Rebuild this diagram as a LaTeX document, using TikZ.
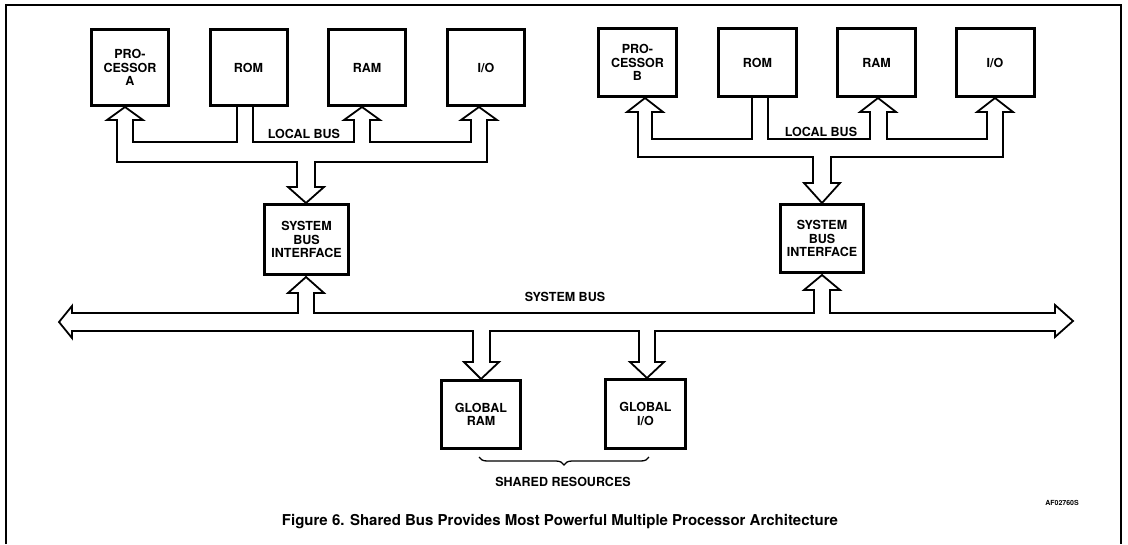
\documentclass[tikz,border=0pt]{standalone}
\usepackage{fontspec}
\setmainfont{TeX Gyre Heros}
\usetikzlibrary{decorations.pathreplacing}

\newcommand{\etiq}{\fontsize{12.5}{13.5}\selectfont\bfseries}

\begin{document}
\begin{tikzpicture}[x=1pt, y=-1pt,
  caja/.style={draw, fill=white, line width=3pt, inner sep=0pt, align=center, font=\etiq},
  cajaA/.style={caja, minimum width=77pt, minimum height=76pt},
  cajaB/.style={caja, minimum width=78pt, minimum height=68pt},
  bus/.style={line width=1.8pt, line join=miter},
  rotulo/.style={font=\etiq}]

  \useasboundingbox (0,0) rectangle (1128,544);

  % Marco de la figura
  \draw[line width=1.2pt] (6,544) -- (6,5) -- (1121,5) -- (1121,544);

  % Bus local del procesador A
  \draw[bus] (237,107) -- (237,142) -- (133,142) -- (133,120) -- (143,120) -- (125,107)
    -- (107,120) -- (117,120) -- (117,162) -- (297,162) -- (297,187) -- (288,187)
    -- (306,203) -- (324,187) -- (315,187) -- (315,162) -- (487,162) -- (487,120)
    -- (497,120) -- (479,107) -- (461,120) -- (471,120) -- (471,142) -- (370,142)
    -- (370,120) -- (380,120) -- (362,107) -- (344,120) -- (354,120) -- (354,142)
    -- (253,142) -- (253,107);

  % Bus local del procesador B
  \draw[bus] (752,98) -- (752,139) -- (652,139) -- (652,112) -- (663,112) -- (645,98)
    -- (627,112) -- (638,112) -- (638,157) -- (813,157) -- (813,183) -- (804,183)
    -- (822,203) -- (840,183) -- (831,183) -- (831,157) -- (1003,157) -- (1003,112)
    -- (1013,112) -- (995,98) -- (977,112) -- (987,112) -- (987,139) -- (887,139)
    -- (887,112) -- (896,112) -- (878,98) -- (860,112) -- (870,112) -- (870,139)
    -- (768,139) -- (768,98);

  % Bus del sistema
  \draw[bus] (59,322) -- (72,306) -- (72,313) -- (298,313) -- (298,293) -- (288,293)
    -- (306,277) -- (324,293) -- (314,293) -- (314,313) -- (814,313) -- (814,290)
    -- (804,290) -- (822,275) -- (840,290) -- (830,290) -- (830,313) -- (1055,313)
    -- (1055,305) -- (1073,321) -- (1055,337) -- (1055,331) -- (655,331) -- (655,362)
    -- (664,362) -- (647,378) -- (630,362) -- (639,362) -- (639,331) -- (490,331)
    -- (490,362) -- (499,362) -- (481,379) -- (464,362) -- (473,362) -- (473,331)
    -- (72,331) -- (72,338) -- cycle;

  % Modulos locales A
  \node[cajaA] (procA) at (130,67.5) {PRO-\\CESSOR\\A};
  \node[cajaA] (romA) at (248.5,67.5) {ROM};
  \node[cajaA] (ramA) at (367,67.5) {RAM};
  \node[cajaA] (ioA) at (486,67.5) {I/O};

  % Modulos locales B
  \node[cajaB] (procB) at (637.5,62.5) {PRO-\\CESSOR\\B};
  \node[cajaB] (romB) at (757.5,62.5) {ROM};
  \node[cajaB] (ramB) at (876.5,62.5) {RAM};
  \node[cajaB] (ioB) at (995,62.5) {I/O};

  % Interfaces al bus del sistema
  \node[caja, minimum width=84pt, minimum height=70pt] (sbiA) at (306.5,239.5) {SYSTEM\\BUS\\INTERFACE};
  \node[caja, minimum width=83pt, minimum height=68pt] (sbiB) at (822,238.5) {SYSTEM\\BUS\\INTERFACE};

  % Recursos compartidos
  \node[caja, minimum width=79pt, minimum height=68pt] (gram) at (481,414.5) {GLOBAL\\RAM};
  \node[caja, minimum width=80pt, minimum height=69pt] (gio) at (645.5,414) {GLOBAL\\I/O};
  \draw[line width=1.3pt, decorate, decoration={brace, mirror, amplitude=8pt}]
    (479,457) -- (649,457);

  % Rotulos
  \node[rotulo] (lbusA) at (304,134) {LOCAL BUS};
  \node[rotulo] (lbusB) at (821,132) {LOCAL BUS};
  \node[rotulo] (sbus) at (565,297) {SYSTEM BUS};
  \node[rotulo] (shared) at (563,482) {SHARED RESOURCES};
  \node[font=\fontsize{7}{8}\selectfont\bfseries] (codigo) at (1062,503) {AF02760S};
  \node[font=\fontsize{15}{17}\selectfont\bfseries] (titulo) at (560,522)
    {Figure 6. Shared Bus Provides Most Powerful Multiple Processor Architecture};

\end{tikzpicture}
\end{document}
